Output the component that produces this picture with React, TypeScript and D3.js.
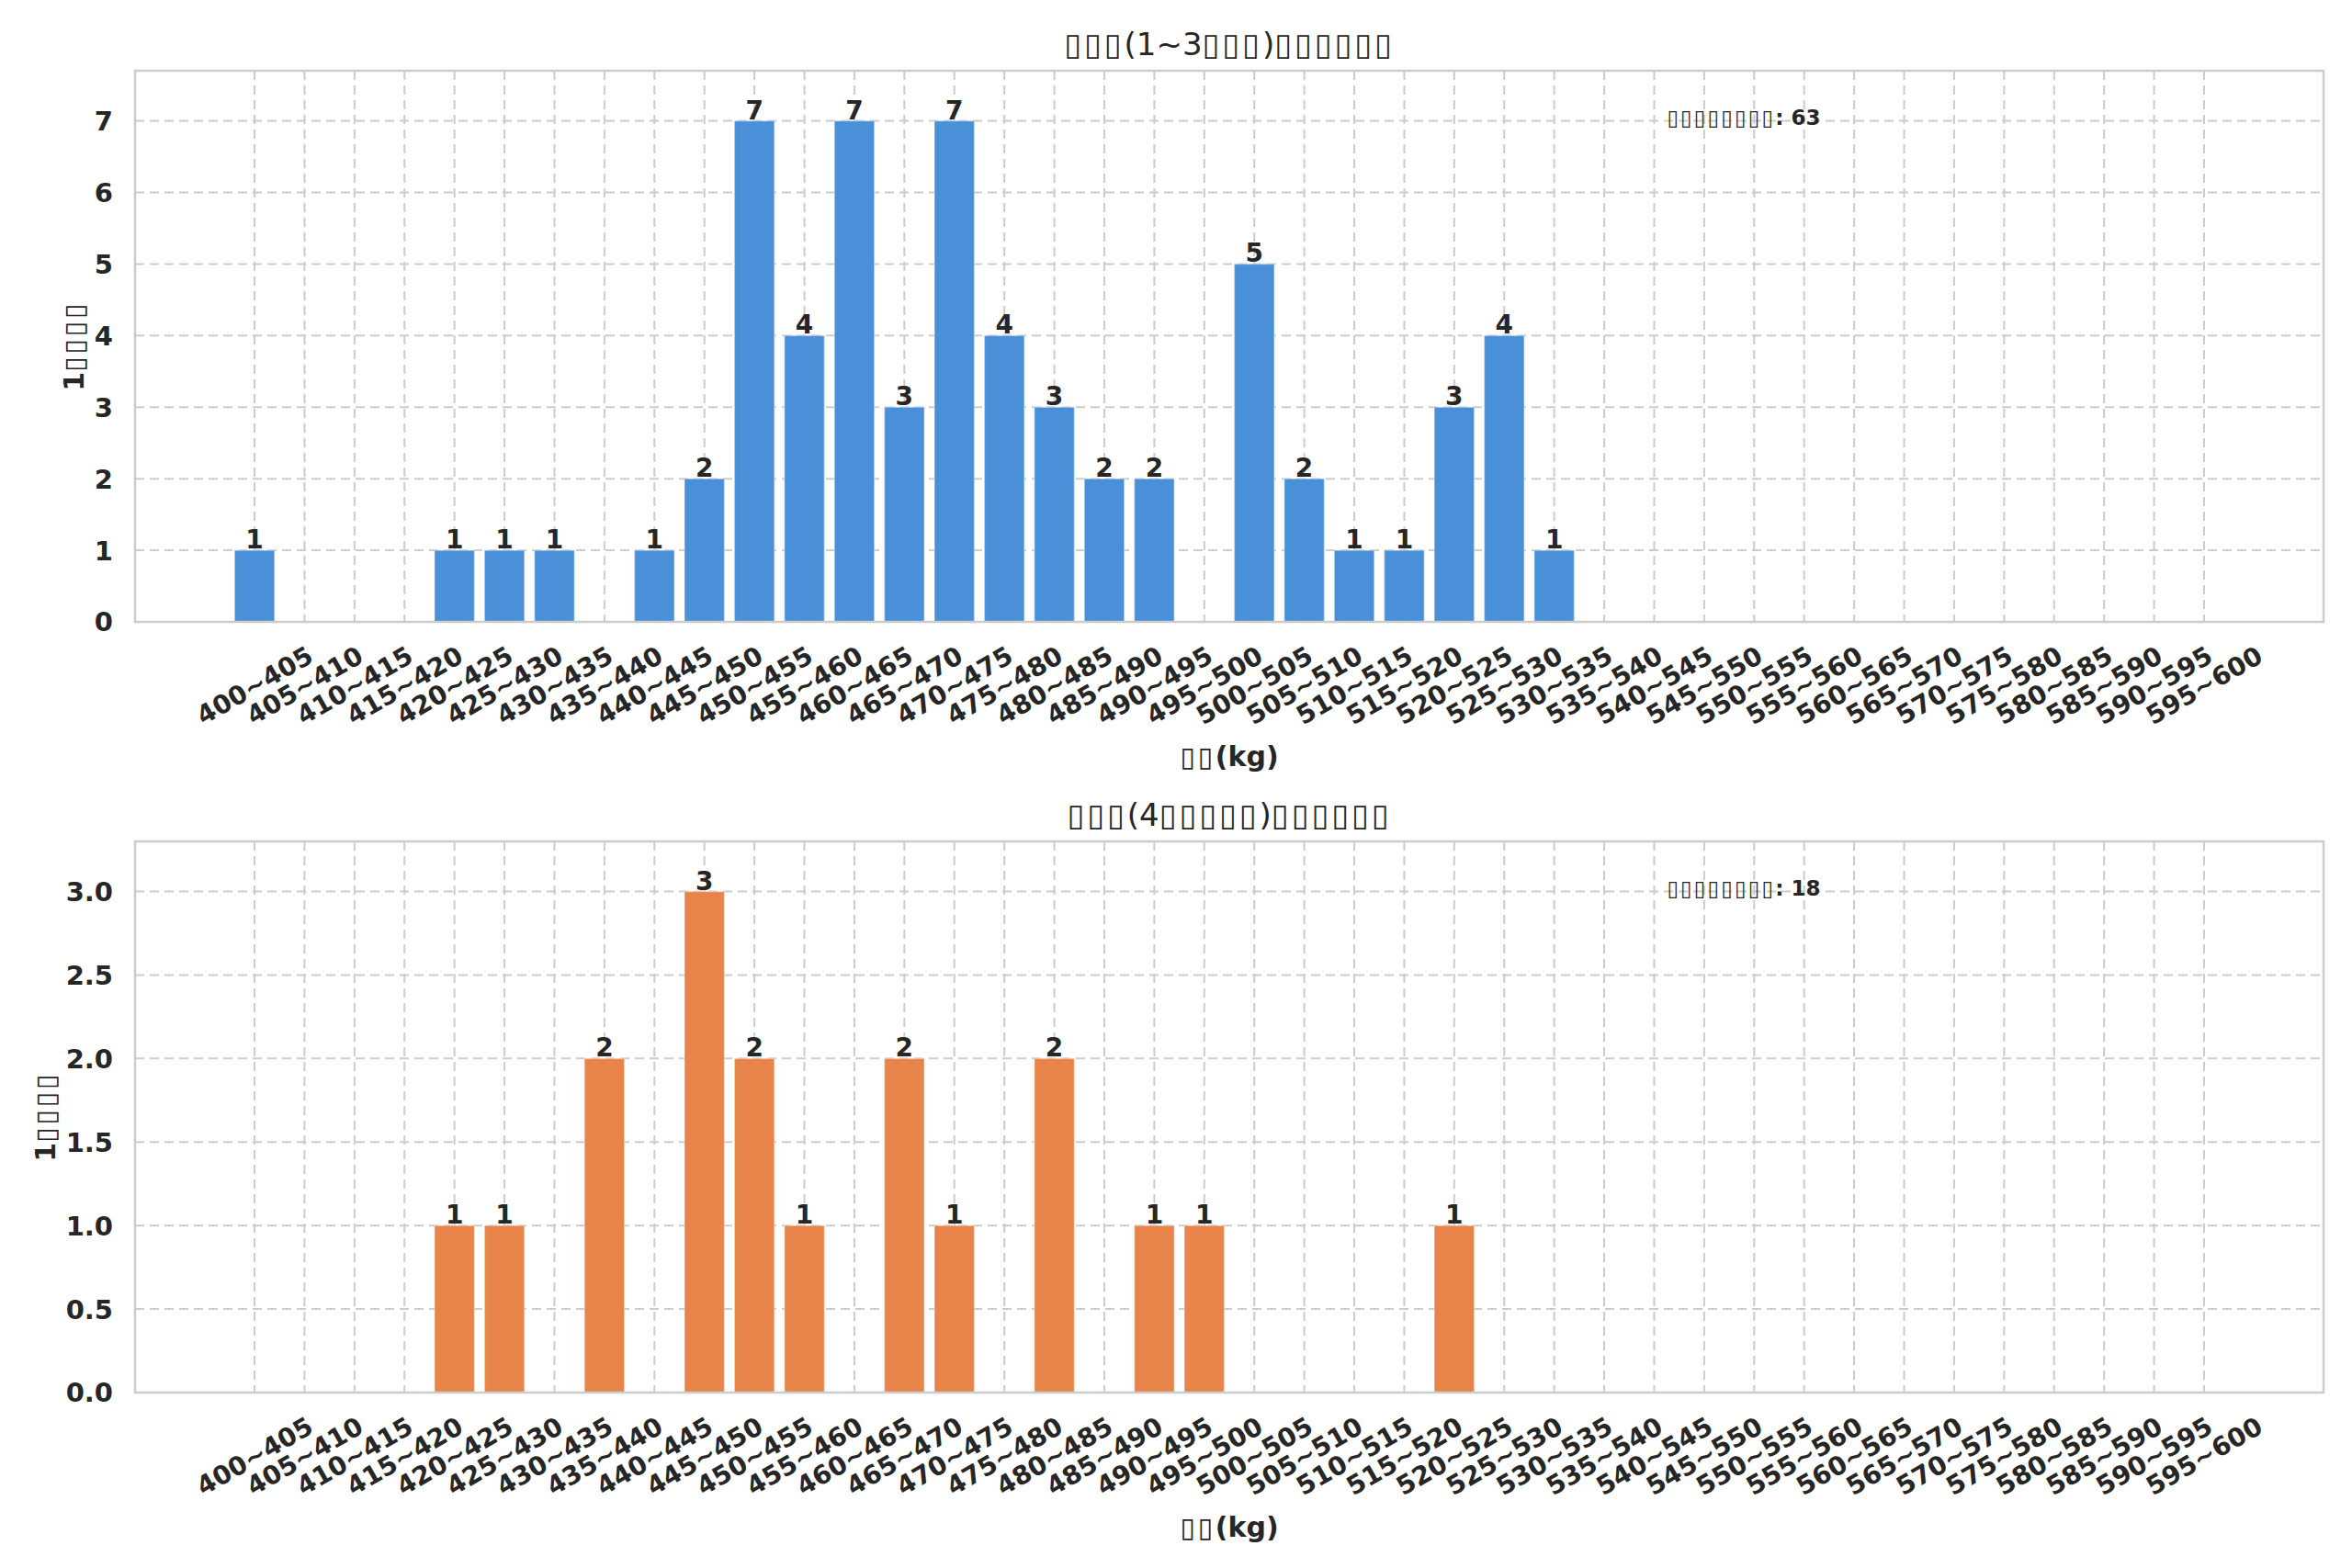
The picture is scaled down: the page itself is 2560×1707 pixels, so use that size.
import { useEffect, useRef } from 'react';
import * as d3 from 'd3';

// weight bins, 5 kg wide
const bins = d3.range(400, 600, 5).map(v => `${v}~${v + 5}`);

// counts per bin, group 1 (1~3)
const countsA = [1, 0, 0, 0, 1, 1, 1, 0, 1, 2, 7, 4, 7, 3, 7, 4, 3, 2, 2, 0, 5, 2, 1, 1, 3, 4, 1,
    0, 0, 0, 0, 0, 0, 0, 0, 0, 0, 0, 0, 0];
// counts per bin, group 2 (4+)
const countsB = [0, 0, 0, 0, 1, 1, 0, 2, 0, 3, 2, 1, 0, 2, 1, 0, 2, 0, 1, 1, 0, 0, 0, 0, 1, 0, 0,
    0, 0, 0, 0, 0, 0, 0, 0, 0, 0, 0, 0, 0];

const titles = ['▯▯▯(1~3▯▯▯)▯▯▯▯▯▯', '▯▯▯(4▯▯▯▯▯)▯▯▯▯▯▯'];
const xLabel = '▯▯(kg)';
const yLabel = '1▯▯▯▯';
const notePrefix = '▯▯▯▯▯▯▯▯: ';
const colors = ['#4A90D9', '#E8844A'];

const W = 2560;
const H = 1707;
const FONT = '"DejaVu Sans", sans-serif';
const INK = '#262626';

// the missing-glyph boxes are a bit wider than ▯, so space those runs out
function setText(sel, str) {
    sel.selectAll('tspan')
        .data(str.match(/▯+|[^▯]+/g))
        .join('tspan')
        .attr('letter-spacing', d => d[0] === '▯' ? '0.09em' : null)
        .text(d => d);
}

const App = () => {
    const ref = useRef(null);

    useEffect(() => {
        const svg = d3.select(ref.current);
        svg.selectAll('*').remove();

        svg.append('rect').attr('width', W).attr('height', H).attr('fill', '#fff');

        const left = 147, right = 2529;
        const panels = [
            { top: 77, bottom: 677, data: countsA },
            { top: 916, bottom: 1516, data: countsB },
        ];

        // matplotlib-style margins around bars of width 0.8
        const x = d3.scaleLinear().domain([-2.39, bins.length - 1 + 2.39]).range([left, right]);

        panels.forEach((p, k) => {
            const maxV = d3.max(p.data);
            const y = d3.scaleLinear().domain([0, maxV * 1.1]).range([p.bottom, p.top]);
            const ticks = y.ticks(8);
            const step = ticks[1] - ticks[0];
            const fmt = step < 1 ? d3.format('.1f') : d3.format('d');
            const g = svg.append('g').style('font-family', FONT);

            // grid
            g.append('g').selectAll('line').data(ticks).join('line')
                .attr('x1', left).attr('x2', right)
                .attr('y1', d => y(d)).attr('y2', d => y(d))
                .attr('stroke', '#cccccc').attr('stroke-width', 2).attr('stroke-dasharray', '10,6');
            g.append('g').selectAll('line').data(bins).join('line')
                .attr('x1', (d, i) => x(i)).attr('x2', (d, i) => x(i))
                .attr('y1', p.top).attr('y2', p.bottom)
                .attr('stroke', '#cccccc').attr('stroke-width', 2).attr('stroke-dasharray', '10,6');

            // bars
            const barData = p.data.map((v, i) => ({ v, i })).filter(d => d.v > 0);
            g.append('g').selectAll('rect').data(barData).join('rect')
                .attr('x', d => x(d.i - 0.4)).attr('width', x(0.8) - x(0))
                .attr('y', d => y(d.v)).attr('height', d => y(0) - y(d.v))
                .attr('fill', colors[k])
                .attr('stroke', '#ffffff').attr('stroke-opacity', 0.35).attr('stroke-width', 1.5);

            // bar value labels
            g.append('g').selectAll('text').data(barData).join('text')
                .attr('x', d => x(d.i)).attr('y', d => y(d.v) - 2)
                .attr('text-anchor', 'middle')
                .attr('font-size', 28).attr('font-weight', 'bold').attr('fill', INK)
                .text(d => d.v);

            // frame
            g.append('rect')
                .attr('x', left).attr('y', p.top)
                .attr('width', right - left).attr('height', p.bottom - p.top)
                .attr('fill', 'none').attr('stroke', '#cccccc').attr('stroke-width', 2.5);

            // y tick labels
            const yt = g.append('g').selectAll('text').data(ticks).join('text')
                .attr('x', left - 24).attr('y', d => y(d))
                .attr('dy', '0.36em')
                .attr('text-anchor', 'end')
                .attr('font-size', 29).attr('font-weight', 'bold').attr('fill', INK)
                .text(d => fmt(d));

            // x tick labels, rotated 30°, box centred on tick
            g.append('g').selectAll('text').data(bins).join('text')
                .attr('text-anchor', 'middle')
                .attr('dy', '0.36em')
                .attr('font-size', 28).attr('font-weight', 'bold').attr('fill', INK)
                .text(d => d)
                .each(function (d, i) {
                    const w = this.getComputedTextLength();
                    const hc = 0.73 * 28;
                    const cx = x(i);
                    const cy = p.bottom + 25 + w * 0.25 + hc * 0.433;
                    d3.select(this).attr('transform', `translate(${cx},${cy}) rotate(-30)`);
                });

            // y label, left of the tick labels
            let minLeft = left;
            yt.each(function () {
                const b = this.getBBox();
                minLeft = Math.min(minLeft, b.x);
            });
            g.append('text')
                .attr('transform', `translate(${minLeft - 12},${(p.top + p.bottom) / 2}) rotate(-90)`)
                .attr('text-anchor', 'middle')
                .attr('font-size', 30).attr('font-weight', 'bold').attr('fill', INK)
                .call(setText, yLabel);

            // x label
            g.append('text')
                .attr('x', (left + right) / 2).attr('y', p.bottom + 157)
                .attr('text-anchor', 'middle')
                .attr('font-size', 30).attr('font-weight', 'bold').attr('fill', INK)
                .call(setText, xLabel);

            // title
            g.append('text')
                .attr('x', (left + right) / 2).attr('y', p.top - 17)
                .attr('text-anchor', 'middle')
                .attr('font-size', 34).attr('fill', INK)
                .call(setText, titles[k]);

            // total note
            g.append('text')
                .attr('x', left + 0.7 * (right - left)).attr('y', p.top + 59)
                .attr('font-size', 23).attr('font-weight', 'bold').attr('fill', INK)
                .call(setText, notePrefix + d3.sum(p.data));
        });
    }, []);

    return (
        <svg ref={ref} width={W} height={H} style={{ position: 'absolute', left: 0, top: 0 }} />
    );
};

export default App;
